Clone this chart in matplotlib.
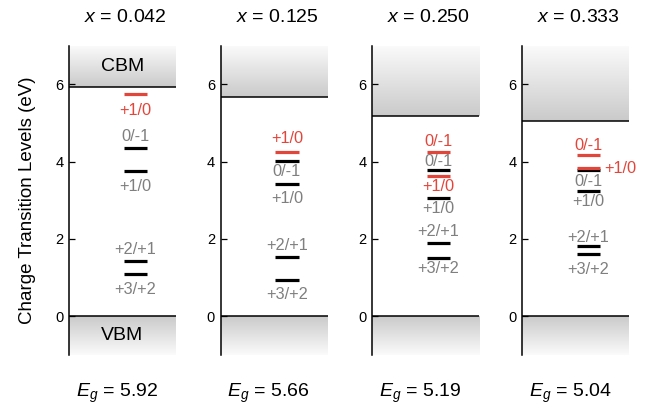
import matplotlib

matplotlib.use("Agg")
import matplotlib.pyplot as plt
import numpy as np
from matplotlib.colors import LinearSegmentedColormap

plt.rcParams["font.family"] = ["Liberation Sans", "DejaVu Sans"]
plt.rcParams["mathtext.fontset"] = "custom"
plt.rcParams["mathtext.rm"] = "Liberation Sans"
plt.rcParams["mathtext.it"] = "Liberation Sans:italic"

# composition and band gap per panel
x_labels = ["0.042", "0.125", "0.250", "0.333"]
band_gaps = [5.92, 5.66, 5.19, 5.04]

# transition levels (eV above VBM), names, and whether highlighted in red
level_E = [
    [5.74, 4.36, 3.75, 1.44, 1.10],
    [4.25, 4.02, 3.41, 1.53, 0.94],
    [4.26, 3.79, 3.62, 3.07, 1.90, 1.51],
    [4.17, 3.77, 3.83, 3.24, 1.83, 1.60],
]
level_names = [
    ["+1/0", "0/-1", "+1/0", "+2/+1", "+3/+2"],
    ["+1/0", "0/-1", "+1/0", "+2/+1", "+3/+2"],
    ["0/-1", "0/-1", "+1/0", "+1/0", "+2/+1", "+3/+2"],
    ["0/-1", "0/-1", "+1/0", "+1/0", "+2/+1", "+3/+2"],
]
level_red = [
    [True, False, False, False, False],
    [True, False, False, False, False],
    [True, False, True, False, False, False],
    [True, False, True, False, False, False],
]

# label offsets in pixels (0 = put label to the right of the bar)
label_dy = [
    [-16, 11, -15, 11, -16],
    [13, -11, -14, 12, -15],
    [10, 8, -10, -11, 11, -11],
    [9, -11, 0, -11, 8, -15],
]

RED = "#e2463b"
GRAY = "#7f7f7f"
shade = LinearSegmentedColormap.from_list("shade", ["#cacaca", "#fbfbfb"])

fig = plt.figure(figsize=(6.59, 4.09), dpi=100)
lefts = [69, 220.5, 372, 522]
ymin, ymax = -1, 7
x0, x1 = 0.51, 0.73

for i, left in enumerate(lefts):
    ax = fig.add_axes([left / 659, 54 / 409, 107 / 659, 309.5 / 409])
    ax.set_xlim(0, 1)
    ax.set_ylim(ymin, ymax)
    eg = band_gaps[i]
    grad = np.linspace(0, 1, 256).reshape(-1, 1)
    ax.imshow(grad, extent=[0, 1, eg, ymax], origin="lower", cmap=shade,
              aspect="auto", zorder=0)
    ax.imshow(grad, extent=[0, 1, ymin, 0], origin="upper", cmap=shade,
              aspect="auto", zorder=0)
    ax.axhline(eg, color="black", lw=1.1, zorder=2)
    ax.axhline(0, color="black", lw=1.1, zorder=2)

    for E, name, red, dy in zip(level_E[i], level_names[i], level_red[i], label_dy[i]):
        col = RED if red else "black"
        ax.plot([x0, x1], [E, E], color=col, lw=2.3, solid_capstyle="butt",
                zorder=4 if red else 3)
        tcol = RED if red else GRAY
        if dy == 0:
            ax.annotate(name, (x1, E), xytext=(4, 0), textcoords="offset pixels",
                        ha="left", va="center", color=tcol, fontsize=11.8)
        else:
            ax.annotate(name, ((x0 + x1) / 2, E), xytext=(0, dy),
                        textcoords="offset pixels", ha="center", va="center",
                        color=tcol, fontsize=11.8)

    for s in ["top", "right", "bottom"]:
        ax.spines[s].set_visible(False)
    ax.spines["left"].set_linewidth(1.1)
    ax.set_xticks([])
    ax.set_yticks([0, 2, 4, 6])
    ax.tick_params(axis="y", direction="in", length=4, width=0.9, labelsize=10.5, pad=4)

    ax.text(0.53, 1.092, f"$x$ = {x_labels[i]}", transform=ax.transAxes,
            ha="center", va="center", fontsize=14)
    ax.text(0.45, -0.125, f"$E_g$ = {eg:.2f}", transform=ax.transAxes,
            ha="center", va="center", fontsize=14)

    if i == 0:
        ax.text(0.5, (eg + ymax) / 2, "CBM", ha="center", va="center", fontsize=14)
        ax.text(0.5, (ymin + 0) / 2, "VBM", ha="center", va="center", fontsize=14)
        ax.set_ylabel("Charge Transition Levels (eV)", fontsize=13.5, labelpad=13.5)

fig.savefig("out.png", dpi=100)
